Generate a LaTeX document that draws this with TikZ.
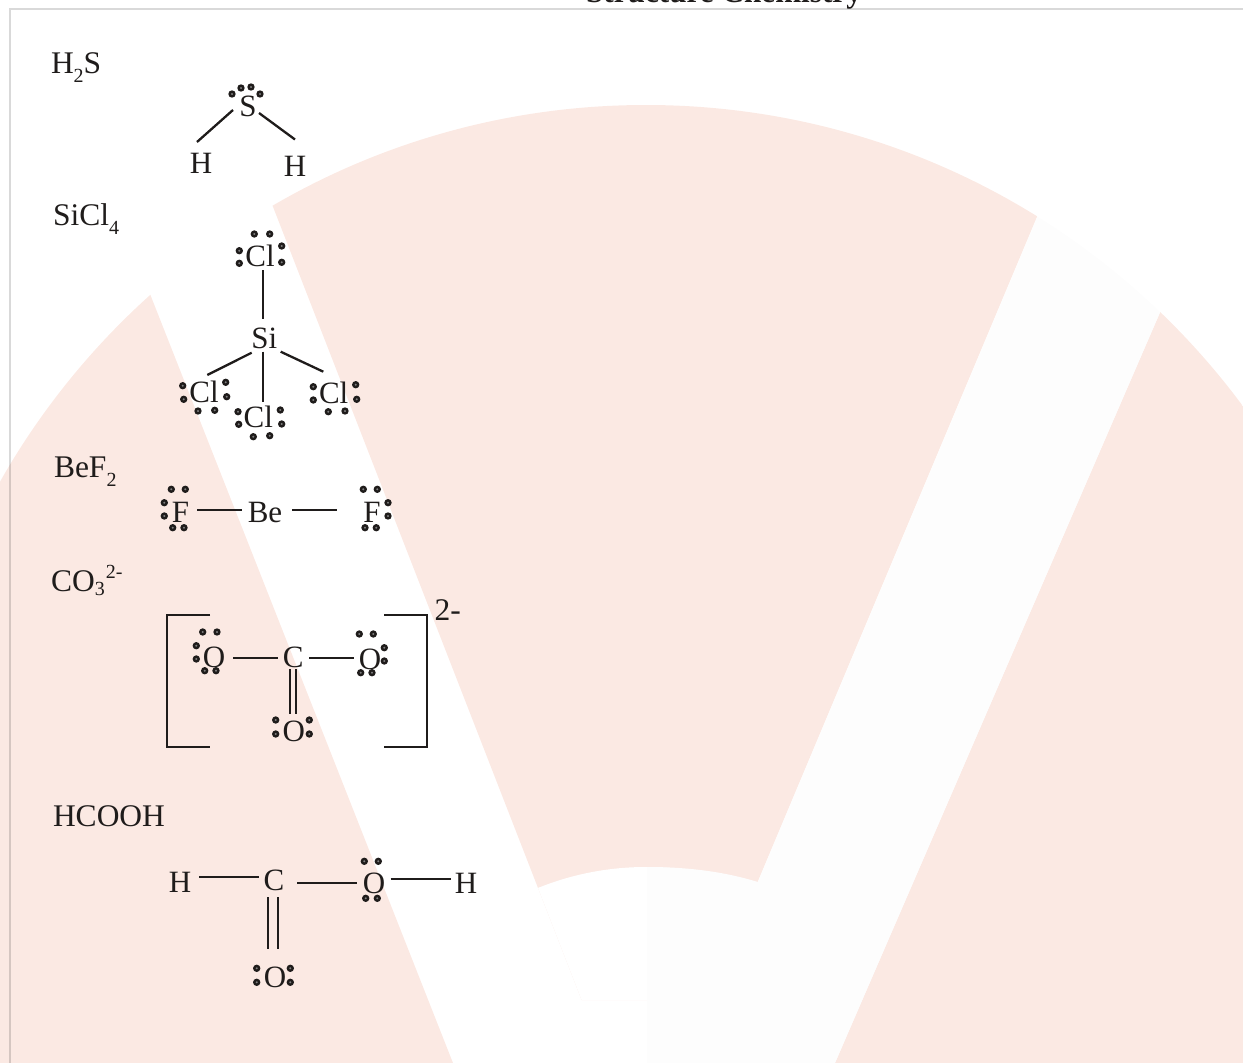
\documentclass[tikz,border=0pt]{standalone}
\usepackage{fontspec}
\setmainfont{Liberation Serif}
\definecolor{peach}{HTML}{FBE9E3}
\definecolor{offw}{HTML}{FDFDFD}
\definecolor{ink}{HTML}{1F1C1B}
\newcommand{\lpairs}[1]{\foreach \p in {#1} \draw[lpdot] \p circle[radius=2.4];}
\newcommand{\subn}[1]{\raisebox{-9pt}{\fontsize{20}{20}\selectfont #1}}
\tikzset{
  atom/.style={anchor=base,inner sep=0pt,outer sep=0pt,text=ink,font=\fontsize{31}{31}\selectfont},
  formula/.style={anchor=base west,inner sep=0pt,outer sep=0pt,text=ink,font=\fontsize{31.5}{31.5}\selectfont},
  bond/.style={draw=ink,line width=2.3pt},
  lpdot/.style={draw=ink,line width=2.4pt,fill=black!50},
}
\begin{document}
\begin{tikzpicture}[x=1pt,y=-1pt]
\useasboundingbox (0,0) rectangle (1243,1063);
% watermark
\begin{scope}
  \clip (0,0) rectangle (1243,1063);
  \clip (646,847) circle[radius=742];
  \fill[peach] (0,100) -- (73.6,100) -- (453,1063) -- (0,1063) -- cycle;
  \fill[peach] (1252,100) -- (1300,100) -- (1300,1063) -- (835,1063) -- cycle;
  \begin{scope}
    \clip (212,50) -- (1107,50) -- (708,1000) -- (581.6,1000) -- cycle;
    \fill[peach] (100,0) rectangle (1200,1063);
    \fill[white] (646,1155) circle[radius=288];
  \end{scope}
  \fill[offw] (1090,92) -- (1252,100) -- (835,1063) -- (647,1063) -- (647,867)
    .. controls (690,867) and (725,872) .. (758,882) -- cycle;
\end{scope}
% frame
\draw[black,opacity=.15,line width=2.2pt] (1243,9) -- (10,9) -- (10,1063);
% clipped title
\begin{scope}
  \clip (0,0) rectangle (1243,1063);
  \node[atom,font=\fontsize{31.2}{31.2}\selectfont\bfseries] (title) at (724,2) {Structure Chemistry};
\end{scope}
% formulas
\node[formula] (f1) at (51,73.5) {H\subn{2}S};
\node[formula] (f2) at (53,225) {SiCl\subn{4}};
\node[formula] (f3) at (54,477.5) {BeF\subn{2}};
\node[formula] (f4) at (51,591.5) {CO\raisebox{-4pt}{\fontsize{20}{20}\selectfont 3}\raisebox{13.5pt}{\fontsize{20}{20}\selectfont\kern1pt 2-}};
\node[formula] (f5) at (53,826) {HCOOH};
% H2S
\node[atom] (s) at (248,116) {S};
\node[atom] (h1) at (201,173) {H};
\node[atom] (h2) at (295,176) {H};
\draw[bond] ([shift={(-15,-6)}]s.base) -- ([shift={(-4,-31)}]h1.base);
\draw[bond] ([shift={(11,-3)}]s.base) -- ([shift={(0,-36.5)}]h2.base);
\lpairs{(232,94),(241,88),(251,87),(260,94)}
% SiCl4
\node[atom] (si) at (264.3,348) {Si};
\node[atom] (cl1) at (260,266) {Cl};
\node[atom] (cl2) at (204,402.7) {Cl};
\node[atom] (cl3) at (258.3,427) {Cl};
\node[atom] (cl4) at (333.7,403.3) {Cl};
\draw[bond] ([shift={(3.3,4)}]cl1.base) -- ([shift={(-1,-28.7)}]si.base);
\draw[bond] ([shift={(-12.6,4.7)}]si.base) -- ([shift={(3.3,-27.7)}]cl2.base);
\draw[bond] ([shift={(-1,3.7)}]si.base) -- ([shift={(5,-25.3)}]cl3.base);
\draw[bond] ([shift={(16.4,3.7)}]si.base) -- ([shift={(-10.4,-31.6)}]cl4.base);
\lpairs{(254.3,234),(269.7,234),(239.3,250.7),(239.3,263.3),(281.7,246),(281.7,262.3)}
\lpairs{(182.7,385.7),(183.7,399.3),(225.7,382.3),(226.7,396.7),(198,411),(214.7,410.3)}
\lpairs{(238,411.7),(238.7,424.3),(280.3,410),(281.7,424),(253.3,436.7),(269.7,435.7)}
\lpairs{(313.3,386.7),(313.3,400),(355.7,384.7),(356.7,399.3),(328.3,411.7),(345,411)}
% BeF2
\node[atom] (be) at (265,522.7) {Be};
\node[atom] (fl) at (180.5,522.7) {F};
\node[atom] (fr) at (372,522.7) {F};
\draw[bond] ([shift={(16.8,-12.7)}]fl.base) -- ([shift={(-23.3,-12.7)}]be.base);
\draw[bond] ([shift={(27.3,-12.7)}]be.base) -- ([shift={(-35.3,-12.7)}]fr.base);
\lpairs{(171.3,489.3),(185.3,489.3),(164.3,502.7),(164.3,516),(172.7,527.7),(184,527.7)}
\lpairs{(363.3,489.3),(377.3,489.3),(388,502.7),(388,516),(365,527.7),(376.3,527.7)}
% CO3 2-
\coordinate (bl1) at (210,615);
\coordinate (bl2) at (167.3,615);
\coordinate (bl3) at (167.3,747.3);
\coordinate (bl4) at (210,747.3);
\coordinate (br1) at (384.3,615);
\coordinate (br2) at (426.7,615);
\coordinate (br3) at (426.7,747.3);
\coordinate (br4) at (384.3,747.3);
\draw[bond] (bl1) -- (bl2) -- (bl3) -- (bl4);
\draw[bond] (br1) -- (br2) -- (br3) -- (br4);
\node[formula] (chg) at (434.5,620) {2-};
\node[atom] (c1) at (293.3,667) {C};
\node[atom] (o1) at (214,667) {O};
\node[atom] (o2) at (370,669) {O};
\node[atom] (o3) at (293.7,741.7) {O};
\draw[bond] ([shift={(19.3,-9.3)}]o1.base) -- ([shift={(-15,-9.3)}]c1.base);
\draw[bond] ([shift={(16,-9.3)}]c1.base) -- ([shift={(-16,-11.3)}]o2.base);
\draw[bond] ([shift={(-3.3,2.3)}]c1.base) -- ([shift={(-3.7,-27.4)}]o3.base);
\draw[bond] ([shift={(2.7,2.3)}]c1.base) -- ([shift={(2.3,-27.4)}]o3.base);
\lpairs{(202.7,632),(217,632),(196.3,645.7),(196.3,659),(204.7,670.7),(216,670.7)}
\lpairs{(359.3,634),(373.3,634),(384.3,647.7),(384.3,661),(360.7,672.7),(372,672.7)}
\lpairs{(275.7,720),(275.7,734),(309.3,720),(309.3,734)}
% HCOOH
\node[atom] (h3) at (180,892.7) {H};
\node[atom] (c2) at (274,890.7) {C};
\node[atom] (o4) at (374,893) {O};
\node[atom] (h4) at (466,893.3) {H};
\node[atom] (o5) at (275,987.3) {O};
\draw[bond] ([shift={(19.3,-15.4)}]h3.base) -- ([shift={(-14.7,-13.4)}]c2.base);
\draw[bond] ([shift={(23.3,-8)}]c2.base) -- ([shift={(-17.3,-10.3)}]o4.base);
\draw[bond] ([shift={(16.7,-13.7)}]o4.base) -- ([shift={(-15.3,-14)}]h4.base);
\draw[bond] ([shift={(-5.7,6.6)}]c2.base) -- ([shift={(-6.7,-38)}]o5.base);
\draw[bond] ([shift={(4.3,6.6)}]c2.base) -- ([shift={(3.3,-38)}]o5.base);
\lpairs{(364.3,861.3),(378.3,861.3),(365.7,898.3),(377.3,898.3)}
\lpairs{(256.7,968.3),(256.7,982.3),(290.3,968.3),(290.3,982.3)}
\end{tikzpicture}
\end{document}
